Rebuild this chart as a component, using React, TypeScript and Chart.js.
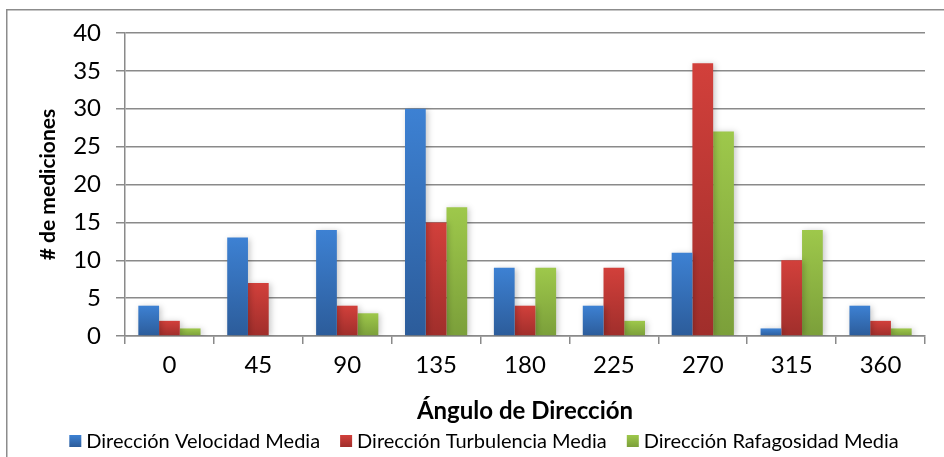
import React, { useEffect, useRef } from "react";
import { Chart, registerables } from "chart.js";

Chart.register(...registerables);

const categories = ["0", "45", "90", "135", "180", "225", "270", "315", "360"];
const seriesNames = [
  "Dirección Velocidad Media",
  "Dirección Turbulencia Media",
  "Dirección Rafagosidad Media",
];
const velocidad = [4, 13, 14, 30, 9, 4, 11, 1, 4];
const turbulencia = [2, 7, 4, 15, 4, 9, 36, 10, 2];
const rafagosidad = [1, 0, 3, 17, 9, 2, 27, 14, 1];
const yTicks = [0, 5, 10, 15, 20, 25, 30, 35, 40];

const topColors = ["#3d81d3", "#d2403b", "#9ec84b"];
const bottomColors = ["#2c5c9a", "#a02e2b", "#7b9f3a"];
const FONT = "Lato, 'Open Sans', sans-serif";
const GRAY = "#8a8a8a";

function gradientFor(idx: number) {
  return (ctx: any) => {
    const chart = ctx.chart;
    const y = chart.scales?.y;
    if (!y || ctx.parsed == null || ctx.type !== "data") return topColors[idx];
    const top = y.getPixelForValue(ctx.parsed.y);
    const base = y.getPixelForValue(0);
    if (!isFinite(top) || !isFinite(base) || base - top < 1) return topColors[idx];
    const g = chart.ctx.createLinearGradient(0, top, 0, base);
    g.addColorStop(0, topColors[idx]);
    g.addColorStop(1, bottomColors[idx]);
    return g;
  };
}

const framePlugin = {
  id: "frame",
  beforeDraw(chart: any) {
    const c = chart.ctx;
    c.save();
    c.fillStyle = "#ffffff";
    c.fillRect(0, 0, chart.width, chart.height);
    c.strokeStyle = "#8c8c8c";
    c.lineWidth = 1.5;
    c.strokeRect(6.75, 9.75, chart.width + 20, chart.height + 20);
    c.restore();
  },
  beforeDatasetsDraw(chart: any) {
    const c = chart.ctx;
    c.save();
    c.shadowColor = "rgba(0,0,0,0.22)";
    c.shadowBlur = 6;
    c.shadowOffsetX = 2;
    c.shadowOffsetY = 1;
  },
  afterDatasetsDraw(chart: any) {
    chart.ctx.restore();
  },
  afterDraw(chart: any) {
    const c = chart.ctx;
    c.save();
    c.font = `20px ${FONT}`;
    c.textBaseline = "middle";
    const box = 12;
    const gapBoxText = 5;
    const gapItems = 20;
    const widths = seriesNames.map((n) => box + gapBoxText + c.measureText(n).width);
    const total = widths.reduce((a, b) => a + b, 0) + gapItems * (seriesNames.length - 1);
    let x = 484 - total / 2;
    const yc = 441;
    seriesNames.forEach((n, i) => {
      const g = c.createLinearGradient(0, yc - box / 2, 0, yc + box / 2);
      g.addColorStop(0, topColors[i]);
      g.addColorStop(1, bottomColors[i]);
      c.fillStyle = g;
      c.fillRect(x, yc - box / 2, box, box);
      c.fillStyle = "#000";
      c.fillText(n, x + box + gapBoxText, yc + 1);
      x += widths[i] + gapItems;
    });
    c.restore();
  },
};

export default function App() {
  const ref = useRef<HTMLCanvasElement>(null);
  useEffect(() => {
    document.body.style.margin = "0";
    const chart = new Chart(ref.current!, {
      type: "bar",
      data: {
        labels: categories,
        datasets: [velocidad, turbulencia, rafagosidad].map((d, i) => ({
          label: seriesNames[i],
          data: d,
          backgroundColor: gradientFor(i),
          borderWidth: 0,
          categoryPercentage: 0.7,
          barPercentage: 1.0,
        })),
      },
      options: {
        animation: false,
        responsive: false,
        maintainAspectRatio: false,
        layout: { padding: { top: 33, right: 19, left: 0, bottom: 0 } },
        plugins: {
          legend: { display: false },
          tooltip: { enabled: false },
        },
        scales: {
          x: {
            type: "category",
            offset: true,
            grid: {
              offset: true,
              drawOnChartArea: false,
              drawTicks: true,
              tickLength: 8,
              color: GRAY,
              lineWidth: 1.5,
            },
            border: { display: true, color: GRAY, width: 1.5 },
            ticks: {
              padding: 7,
              color: "#000",
              font: { family: FONT, size: 24 },
              maxRotation: 0,
            },
            title: {
              display: true,
              text: "Ángulo de Dirección",
              color: "#000",
              font: { family: FONT, size: 24, weight: "bold" },
              padding: { top: 0, bottom: 31 },
            },
            afterFit: (scale: any) => {
              scale.height = 121;
            },
          },
          y: {
            min: 0,
            max: 40,
            afterBuildTicks: (scale: any) => {
              scale.ticks = yTicks.map((v) => ({ value: v }));
            },
            grid: {
              color: GRAY,
              lineWidth: 1.5,
              drawTicks: true,
              tickLength: 9,
            },
            border: { display: true, color: GRAY, width: 1.5 },
            ticks: {
              padding: 15,
              color: "#000",
              font: { family: FONT, size: 24 },
            },
            title: {
              display: true,
              text: "# de mediciones",
              color: "#000",
              font: { family: FONT, size: 21, weight: "bold" },
              padding: { top: 36, bottom: 0 },
            },
            afterFit: (scale: any) => {
              scale.width = 125;
            },
          },
        },
      },
      plugins: [framePlugin],
    });
    return () => chart.destroy();
  }, []);
  return <canvas ref={ref} width={944} height={457} style={{ display: "block" }} />;
}
